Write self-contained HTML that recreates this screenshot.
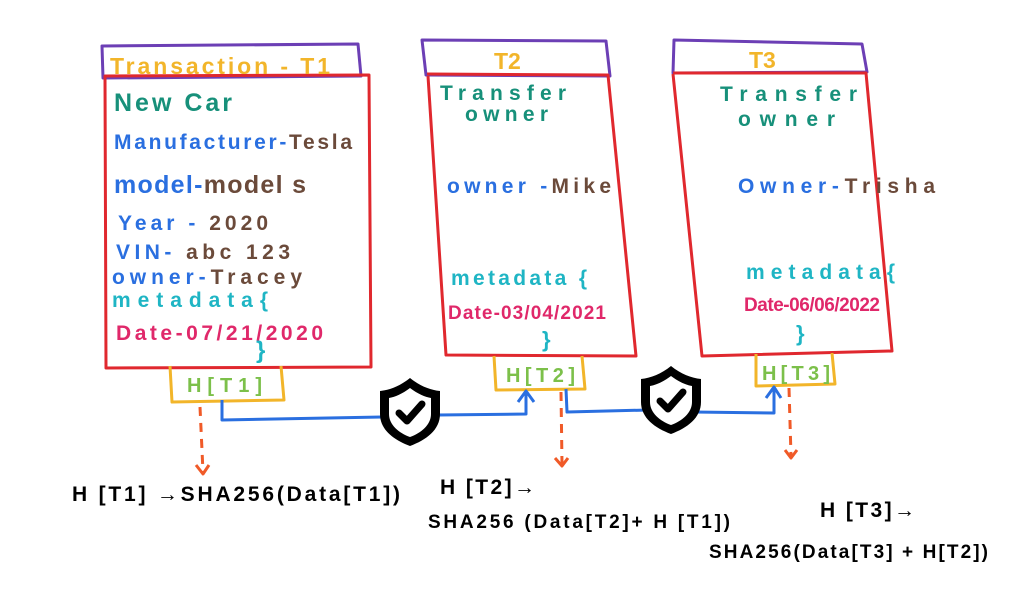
<!DOCTYPE html>
<html><head><meta charset="utf-8"><style>
html,body{margin:0;padding:0;background:#fff;}
svg{display:block;}
text{font-family:"Liberation Sans",sans-serif;font-weight:bold;}
</style></head><body>
<svg width="1024" height="601" viewBox="0 0 1024 601" xmlns="http://www.w3.org/2000/svg">
<defs>
<g id="shield">
<path d="M0,-34 C10,-26 20,-22 30,-21 L30,2 C30,18 16,28 0,34 C-16,28 -30,18 -30,2 L-30,-21 C-20,-22 -10,-26 0,-34 Z" fill="#000"/>
<path d="M0,-24 C8,-18 15,-15 21,-14 L21,2 C21,13 11,21 0,25 C-11,21 -21,13 -21,2 L-21,-14 C-15,-15 -8,-18 0,-24 Z" fill="#fff"/>
<path d="M-11,1 L-3,9 L12,-8" fill="none" stroke="#000" stroke-width="7" stroke-linecap="round" stroke-linejoin="round"/>
</g>
</defs>
<g fill="none" stroke-width="3" stroke-linejoin="round">
<path d="M102,46 L358,44 L361,76 L103,78 Z" stroke="#6c3fb5"/>
<path d="M105,76 L369,75 L371,367 L106,368 Z" stroke="#e0282e"/>
<path d="M170,366 L172,402 L284,400 L281,366" stroke="#f2b52a"/>
<path d="M422,40 L606,41 L610,76 L426,75 Z" stroke="#6c3fb5"/>
<path d="M427,74 L608,75 L636,356 L446,355 L428,76" stroke="#e0282e"/>
<path d="M494,356 L496,390 L585,389 L582,356" stroke="#f2b52a"/>
<path d="M674,40 L862,44 L867,72 L673,73 Z" stroke="#6c3fb5"/>
<path d="M673,73 L866,73 L892,351 L702,356 L673,74" stroke="#e0282e"/>
<path d="M756,354 L756,386 L835,384 L832,353" stroke="#f2b52a"/>
<path d="M222,400 L222,420 L382,417" stroke="#2a6fe0"/>
<path d="M438,415 L526,414 L526,392 M518,402 L526,391 L534,402" stroke="#2a6fe0"/>
<path d="M566,389 L567,412 L648,410" stroke="#2a6fe0"/>
<path d="M693,412 L774,413 L774,388 M766,398 L774,387 L781,398" stroke="#2a6fe0"/>
<path d="M200,407 L203,472" stroke="#f05a28" stroke-dasharray="9,7"/>
<path d="M196,465 L203,474 L209,465" stroke="#f05a28"/>
<path d="M561,392 L562,464" stroke="#f05a28" stroke-dasharray="9,7"/>
<path d="M555,458 L562,466 L568,458" stroke="#f05a28"/>
<path d="M789,388 L791,456" stroke="#f05a28" stroke-dasharray="9,7"/>
<path d="M785,450 L791,458 L797,450" stroke="#f05a28"/>
</g>
<use href="#shield" x="410" y="412"/>
<use href="#shield" x="671" y="400"/>

<g font-size="21" lengthAdjust="spacingAndGlyphs">
<text x="110" y="74" fill="#f2b52a" font-size="23" textLength="220">Transaction - T1</text>
<text x="114" y="111" fill="#17907a" font-size="25" textLength="118">New Car</text>
<text x="114" y="149" fill="#2a6fe0" textLength="238">Manufacturer-<tspan fill="#6b4a3a">Tesla</tspan></text>
<text x="114" y="193" fill="#2a6fe0" font-size="25" textLength="192">model-<tspan fill="#6b4a3a">model s</tspan></text>
<text x="118" y="230" fill="#2a6fe0" textLength="150">Year - <tspan fill="#6b4a3a">2020</tspan></text>
<text x="116" y="259" fill="#2a6fe0" textLength="174">VIN- <tspan fill="#6b4a3a">abc 123</tspan></text>
<text x="112" y="284" fill="#2a6fe0" textLength="190">owner-<tspan fill="#6b4a3a">Tracey</tspan></text>
<text x="112" y="307" fill="#1fb5c4" textLength="156">metadata{</text>
<text x="116" y="340" fill="#e0286a" textLength="207">Date-07/21/2020</text>
<text x="256" y="358" fill="#1fb5c4" font-size="24">}</text>
<text x="187" y="392" fill="#7cc04a" font-size="20" textLength="75">H[T1]</text>

<text x="494" y="69" fill="#f2b52a" font-size="23">T2</text>
<text x="440" y="100" fill="#17907a" textLength="126">Transfer</text>
<text x="465" y="121" fill="#17907a" textLength="83">owner</text>
<text x="447" y="193" fill="#2a6fe0" textLength="164">owner -<tspan fill="#6b4a3a">Mike</tspan></text>
<text x="451" y="285" fill="#1fb5c4" textLength="136">metadata {</text>
<text x="448" y="319" fill="#e0286a" font-size="19" textLength="158">Date-03/04/2021</text>
<text x="542" y="347" fill="#1fb5c4" font-size="22">}</text>
<text x="506" y="382" fill="#7cc04a" font-size="20" textLength="69">H[T2]</text>

<text x="749" y="68" fill="#f2b52a" font-size="23">T3</text>
<text x="720" y="101" fill="#17907a" textLength="137">Transfer</text>
<text x="738" y="126" fill="#17907a" textLength="97">owner</text>
<text x="738" y="193" fill="#2a6fe0" textLength="197">Owner-<tspan fill="#6b4a3a">Trisha</tspan></text>
<text x="746" y="279" fill="#1fb5c4" textLength="149">metadata{</text>
<text x="744" y="311" fill="#e0286a" font-size="19" textLength="136">Date-06/06/2022</text>
<text x="796" y="341" fill="#1fb5c4" font-size="22">}</text>
<text x="762" y="380" fill="#7cc04a" font-size="20" textLength="68">H[T3]</text>

<text x="72" y="501" fill="#000" font-size="21" textLength="328">H [T1] →SHA256(Data[T1])</text>
<text x="440" y="494" fill="#000" font-size="21" textLength="95">H [T2]→</text>
<text x="428" y="528" fill="#000" font-size="19" textLength="302">SHA256 (Data[T2]+ H [T1])</text>
<text x="820" y="517" fill="#000" font-size="21" textLength="95">H [T3]→</text>
<text x="709" y="558" fill="#000" font-size="19" textLength="279">SHA256(Data[T3] + H[T2])</text>
</g>
</svg>
</body></html>
